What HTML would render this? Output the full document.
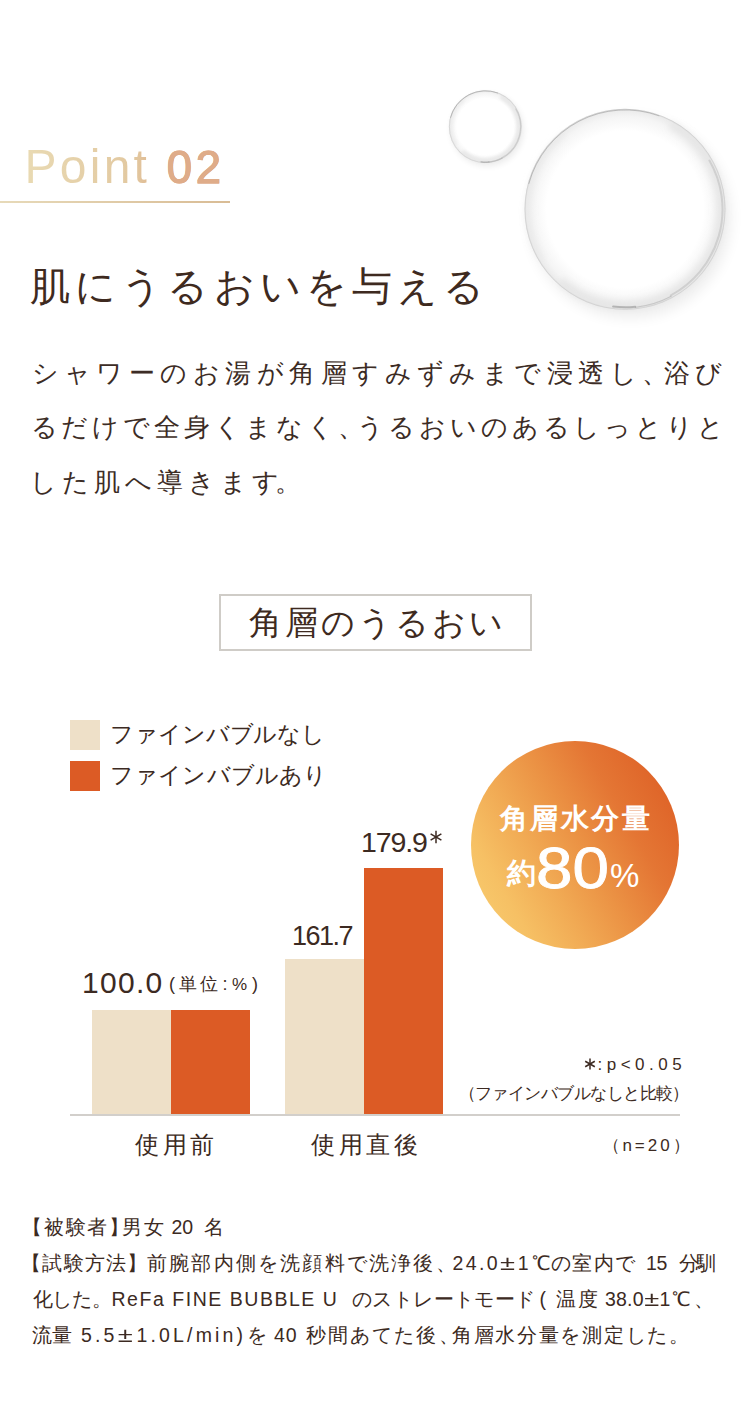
<!DOCTYPE html>
<html lang="ja">
<head>
<meta charset="utf-8">
<style>
html,body{margin:0;padding:0;background:#fff;}
body{width:750px;height:1412px;position:relative;overflow:hidden;font-family:"Liberation Sans",sans-serif;color:#3c2a22;}
.a{position:absolute;white-space:nowrap;}
.serif{font-family:"Liberation Serif",serif;}
/* bubbles */
.bub{position:absolute;border-radius:50%;}
#point{left:24.5px;top:139px;font-size:48px;letter-spacing:3.25px;line-height:56px;
 background:linear-gradient(90deg,#e9dab3 0%,#e2c8a0 55%,#dca47f 75%,#dba07c 100%);
 -webkit-background-clip:text;background-clip:text;color:transparent;}
#point b{font-weight:normal;font-size:45.5px;letter-spacing:3.6px;color:#dfac89;-webkit-text-fill-color:#dfac89;-webkit-text-stroke:0.9px #dfac89;}
#pline{left:0;top:201px;width:230px;height:2px;background:linear-gradient(90deg,#e7dab9,#d9bc95);}
#h1{left:30px;top:262px;font-size:40px;letter-spacing:5.15px;line-height:50px;color:#3e2a20;}
.pl{position:absolute;left:33px;font-size:26px;line-height:30px;white-space:nowrap;color:#3c2c25;}
#box{left:219px;top:594px;width:309px;height:53px;border:2px solid #cfccc7;}
#boxt{left:0;width:313px;top:9px;text-align:center;font-size:33px;letter-spacing:3px;line-height:36px;color:#3e2a20;}
.sq{position:absolute;width:30px;height:30px;}
.beige{background:#eee0c8;}
.orange{background:#dc5b25;}
.lg{position:absolute;left:111px;font-size:23.5px;line-height:30px;letter-spacing:0.2px;}
.bar{position:absolute;}
.num{position:absolute;font-size:26px;letter-spacing:-0.5px;line-height:30px;}
#axis{left:70px;top:1114px;width:610px;height:2px;background:#d2cfcb;}
#circle{left:470.5px;top:741px;width:208px;height:208px;border-radius:50%;
 background:linear-gradient(240deg,#db5a22 0%,#df6529 13%,#e47634 30%,#eb9244 48%,#f1aa54 64%,#f6c064 80%,#f8ca6d 92%,#f9ce70 100%);}
.ct{position:absolute;color:#fff;font-weight:bold;}
.pm{display:inline-block;transform:scaleX(1.3);margin:0 2px;font-size:21px;}
.foot{position:absolute;left:32px;font-size:19.5px;line-height:35.5px;letter-spacing:0.8px;color:#3c2c25;}
</style>
</head>
<body>
<!-- bubbles -->
<svg class="a" style="left:0;top:0;" width="750" height="340" viewBox="0 0 750 340">
<defs>
<radialGradient id="bin" cx="0.5" cy="0.5" r="0.5"><stop offset="0" stop-color="#fff"/><stop offset="0.78" stop-color="#fff"/><stop offset="0.92" stop-color="#f5f5f5"/><stop offset="0.98" stop-color="#ececec"/><stop offset="1" stop-color="#dedede"/></radialGradient>
<filter id="bb10" x="-30%" y="-30%" width="160%" height="160%"><feGaussianBlur stdDeviation="7"/></filter>
<filter id="bb4" x="-30%" y="-30%" width="160%" height="160%"><feGaussianBlur stdDeviation="3"/></filter>
<filter id="cresbb10" x="-20%" y="-20%" width="140%" height="140%"><feGaussianBlur stdDeviation="3"/></filter>
<filter id="cresbb4" x="-20%" y="-20%" width="140%" height="140%"><feGaussianBlur stdDeviation="1.5"/></filter>
<filter id="soft" x="-5%" y="-5%" width="110%" height="110%"><feGaussianBlur stdDeviation="0.45"/></filter>
</defs>
<circle cx="630.0" cy="217.3" r="100.5" fill="#000" opacity="0.07" filter="url(#bb10)"/>
<circle cx="625" cy="209.3" r="100.5" fill="url(#bin)"/>
<g filter="url(#cresbb10)">
<path d="M672.8 126.6A95.5 95.5 0 1 1 563.6 282.5" fill="none" stroke="#dcdcdc" stroke-width="8.0" stroke-linecap="round" opacity="0.55"/>
<path d="M541.4 257.6A96.5 96.5 0 0 1 563.0 135.4" fill="none" stroke="#e6e6e6" stroke-width="5.0" stroke-linecap="round" opacity="0.5"/>
</g>
<g filter="url(#soft)">
<circle cx="625" cy="209.3" r="100.0" fill="none" stroke="#c4c4c4" stroke-width="0.9" opacity="0.5"/>
<path d="M528.9 183.5A99.5 99.5 0 0 1 659.0 115.8" fill="none" stroke="#8a8a8a" stroke-width="1.0" stroke-linecap="round" opacity="0.45"/>
<path d="M709.4 160.5A97.5 97.5 0 0 1 670.8 295.4" fill="none" stroke="#a4a4a4" stroke-width="2.0" stroke-linecap="round" opacity="0.35"/>
<path d="M671.2 296.3A98.5 98.5 0 0 1 635.3 307.3" fill="none" stroke="#999" stroke-width="1.2" stroke-linecap="round" opacity="0.4"/>
<path d="M635.2 306.8A98.0 98.0 0 0 1 613.1 306.6" fill="none" stroke="#777" stroke-width="2.0" stroke-linecap="round" opacity="0.45"/>
</g>
<circle cx="487.3" cy="129.9" r="36.4" fill="#000" opacity="0.07" filter="url(#bb4)"/>
<circle cx="485.3" cy="126.7" r="36.4" fill="url(#bin)"/>
<g filter="url(#cresbb4)">
<path d="M502.0 97.8A33.4 33.4 0 1 1 463.8 152.3" fill="none" stroke="#dcdcdc" stroke-width="4.0" stroke-linecap="round" opacity="0.55"/>
<path d="M455.9 143.7A34.0 34.0 0 0 1 463.4 100.7" fill="none" stroke="#e6e6e6" stroke-width="2.5" stroke-linecap="round" opacity="0.5"/>
</g>
<g filter="url(#soft)">
<circle cx="485.3" cy="126.7" r="35.9" fill="none" stroke="#c4c4c4" stroke-width="0.9" opacity="0.5"/>
<path d="M450.5 117.4A36.0 36.0 0 0 1 497.6 92.9" fill="none" stroke="#8a8a8a" stroke-width="1.0" stroke-linecap="round" opacity="0.45"/>
<path d="M515.8 109.1A35.2 35.2 0 0 1 501.8 157.8" fill="none" stroke="#a4a4a4" stroke-width="1.2" stroke-linecap="round" opacity="0.35"/>
<path d="M502.0 158.1A35.6 35.6 0 0 1 489.0 162.1" fill="none" stroke="#999" stroke-width="1.2" stroke-linecap="round" opacity="0.4"/>
<path d="M489.0 161.9A35.4 35.4 0 0 1 481.0 161.8" fill="none" stroke="#777" stroke-width="1.2" stroke-linecap="round" opacity="0.45"/>
</g>
</svg>

<div id="point" class="a">Point <b>02</b></div>
<div id="pline" class="a"></div>
<div id="h1" class="a serif">肌にうるおいを与える</div>

<div class="pl" style="left:31.6px;top:358px;letter-spacing:5.45px;">シャワーのお湯が角層すみずみまで浸透し<span style="margin-right:-9.6px;">、</span>浴び</div>
<div class="pl" style="left:30.5px;top:412px;letter-spacing:3.97px;">るだけで全身くまなく<span style="margin-right:-11.5px;">、</span>うるおいのあるしっとりと</div>
<div class="pl" style="left:30.4px;top:467px;letter-spacing:4.9px;">した肌へ導きます<span style="margin-left:-8.6px;">。</span></div>

<div id="box" class="a"><div id="boxt" class="a serif">角層のうるおい</div></div>

<div class="sq beige" style="left:70px;top:720px;"></div>
<div class="sq orange" style="left:70px;top:761px;"></div>

<div id="circle" class="a"></div>
<div class="ct" style="left:500px;top:801px;font-size:28px;letter-spacing:2.4px;line-height:36px;">角層水分量</div>
<div class="ct" style="left:507px;top:855px;font-size:28.5px;line-height:36px;">約</div>
<div class="ct" style="left:536px;top:835px;font-size:58px;line-height:66px;letter-spacing:0px;font-weight:normal;-webkit-text-stroke:0.9px #fff;transform:scaleX(1.13);transform-origin:0 0;">80</div>
<div class="ct" style="left:610px;top:857px;font-size:33px;line-height:38px;font-weight:normal;">%</div>

<div class="bar beige" style="left:92px;top:1010px;width:79px;height:105px;"></div>
<div class="bar orange" style="left:171px;top:1010px;width:79px;height:105px;"></div>
<div class="bar beige" style="left:285px;top:959px;width:79px;height:156px;"></div>
<div class="bar orange" style="left:364px;top:868px;width:79px;height:247px;"></div>
<div id="axis" class="a"></div>

<div class="num" style="left:82px;top:968px;font-size:30px;letter-spacing:1.3px;">100.0</div>
<div class="a" style="left:169px;top:971px;font-size:18px;line-height:26px;">(</div>
<div class="a" style="left:179px;top:971px;font-size:18px;line-height:26px;letter-spacing:2.5px;">単位</div>
<div class="a" style="left:222.5px;top:971px;font-size:18px;line-height:26px;">:</div>
<div class="a" style="left:232px;top:972px;font-size:17px;line-height:26px;">%</div>
<div class="a" style="left:252px;top:971px;font-size:18px;line-height:26px;">)</div>
<div class="num" style="left:292px;top:921px;font-size:27px;letter-spacing:-1.5px;">161.7</div>
<div class="num" style="left:361px;top:827px;font-size:28.5px;letter-spacing:-1.1px;">179.9</div>
<svg class="a" style="left:429px;top:830px;" width="14" height="14" viewBox="0 0 14 14"><g stroke="#3c2a22" stroke-width="1.5"><line x1="7" y1="0.8" x2="7" y2="13.2"/><line x1="1.6" y1="3.9" x2="12.4" y2="10.1"/><line x1="1.6" y1="10.1" x2="12.4" y2="3.9"/></g></svg>

<div class="a" style="left:135px;top:1130px;font-size:24px;line-height:30px;letter-spacing:3.5px;">使用前</div>
<div class="a" style="left:311px;top:1130px;font-size:24px;line-height:30px;letter-spacing:3.5px;">使用直後</div>

<svg class="a" style="left:583px;top:1057px;" width="14" height="14" viewBox="0 0 14 14"><g stroke="#3c2a22" stroke-width="1.5" stroke-linecap="butt"><line x1="7" y1="1.5" x2="7" y2="12.5"/><line x1="2.2" y1="4.25" x2="11.8" y2="9.75"/><line x1="2.2" y1="9.75" x2="11.8" y2="4.25"/></g></svg>
<!--CK-START-->
<div class="a ck" id="ck0" style="left:110.0px;top:722px;font-size:22.5px;line-height:26px;letter-spacing:-0.10px;">ファインバブルなし</div>
<div class="a ck" id="ck1" style="left:110.0px;top:763px;font-size:22.5px;line-height:26px;letter-spacing:0.15px;">ファインバブルあり</div>
<div class="a ck" id="ck2" style="left:597.5px;top:1052px;font-size:17px;line-height:26px;letter-spacing:4.50px;">:p&lt;0.05</div>
<div class="a ck" id="ck3" style="left:458.5px;top:1080px;font-size:16.5px;line-height:26px;letter-spacing:-0.54px;">（ファインバブルなしと比較）</div>
<div class="a ck" id="ck4" style="left:602.5px;top:1133px;font-size:17px;line-height:26px;letter-spacing:2.96px;">（n=20）</div>
<div class="a ck" id="ck5" style="left:22.0px;top:1214px;font-size:19.5px;line-height:26px;letter-spacing:1.80px;">【被験者】</div>
<div class="a ck" id="ck6" style="left:121.5px;top:1214px;font-size:19.5px;line-height:26px;letter-spacing:2.00px;">男女</div>
<div class="a ck" id="ck7" style="left:171.5px;top:1214px;font-size:19.5px;line-height:26px;letter-spacing:0.00px;">20</div>
<div class="a ck" id="ck8" style="left:203.5px;top:1214px;font-size:19.5px;line-height:26px;letter-spacing:0.00px;">名</div>
<div class="a ck" id="ck9" style="left:21.0px;top:1250px;font-size:19.5px;line-height:26px;letter-spacing:1.28px;">【試験方法】</div>
<div class="a ck" id="ck10" style="left:147.0px;top:1250px;font-size:19.5px;line-height:26px;letter-spacing:2.20px;">前腕部内側を洗顔料で洗浄後、</div>
<div class="a ck" id="ck11" style="left:452.5px;top:1250px;font-size:19.5px;line-height:26px;letter-spacing:2.36px;">24.0<span class="pm">±</span>1</div>
<div class="a ck" id="ck12" style="left:531.5px;top:1250px;font-size:19.5px;line-height:26px;letter-spacing:0.00px;">℃</div>
<div class="a ck" id="ck13" style="left:551.0px;top:1250px;font-size:19.5px;line-height:26px;letter-spacing:1.33px;">の室内で</div>
<div class="a ck" id="ck14" style="left:646.0px;top:1250px;font-size:19.5px;line-height:26px;letter-spacing:-0.40px;">15</div>
<div class="a ck" id="ck15" style="left:679.0px;top:1250px;font-size:19.5px;line-height:26px;letter-spacing:-3.00px;">分馴</div>
<div class="a ck" id="ck16" style="left:32.5px;top:1286px;font-size:19.5px;line-height:26px;letter-spacing:-0.07px;">化した。</div>
<div class="a ck" id="ck17" style="left:111.5px;top:1286px;font-size:19.5px;line-height:26px;letter-spacing:1.53px;">ReFa FINE BUBBLE U</div>
<div class="a ck" id="ck18" style="left:352.0px;top:1286px;font-size:19.5px;line-height:26px;letter-spacing:0.38px;">のストレートモード</div>
<div class="a ck" id="ck19" style="left:539.5px;top:1286px;font-size:19.5px;line-height:26px;letter-spacing:0.00px;">(</div>
<div class="a ck" id="ck20" style="left:555.5px;top:1286px;font-size:19.5px;line-height:26px;letter-spacing:2.60px;">温度</div>
<div class="a ck" id="ck21" style="left:605.0px;top:1286px;font-size:19.5px;line-height:26px;letter-spacing:0.20px;">38.0<span class="pm">±</span>1</div>
<div class="a ck" id="ck22" style="left:671.5px;top:1286px;font-size:19.5px;line-height:26px;letter-spacing:0.00px;">℃</div>
<div class="a ck" id="ck23" style="left:693.5px;top:1286px;font-size:19.5px;line-height:26px;letter-spacing:0.00px;">、</div>
<div class="a ck" id="ck24" style="left:31.5px;top:1322px;font-size:19.5px;line-height:26px;letter-spacing:0.80px;">流量</div>
<div class="a ck" id="ck25" style="left:81.0px;top:1322px;font-size:19.5px;line-height:26px;letter-spacing:3.18px;">5.5<span class="pm">±</span>1.0L/min)</div>
<div class="a ck" id="ck26" style="left:247.0px;top:1322px;font-size:19.5px;line-height:26px;letter-spacing:0.00px;">を</div>
<div class="a ck" id="ck27" style="left:274.0px;top:1322px;font-size:19.5px;line-height:26px;letter-spacing:1.00px;">40</div>
<div class="a ck" id="ck28" style="left:306.0px;top:1322px;font-size:19.5px;line-height:26px;letter-spacing:2.10px;">秒間あてた後、</div>
<div class="a ck" id="ck29" style="left:452.0px;top:1322px;font-size:19.5px;line-height:26px;letter-spacing:1.70px;">角層水分量を測定した。</div>
<!--CK-END-->
</body>
</html>
